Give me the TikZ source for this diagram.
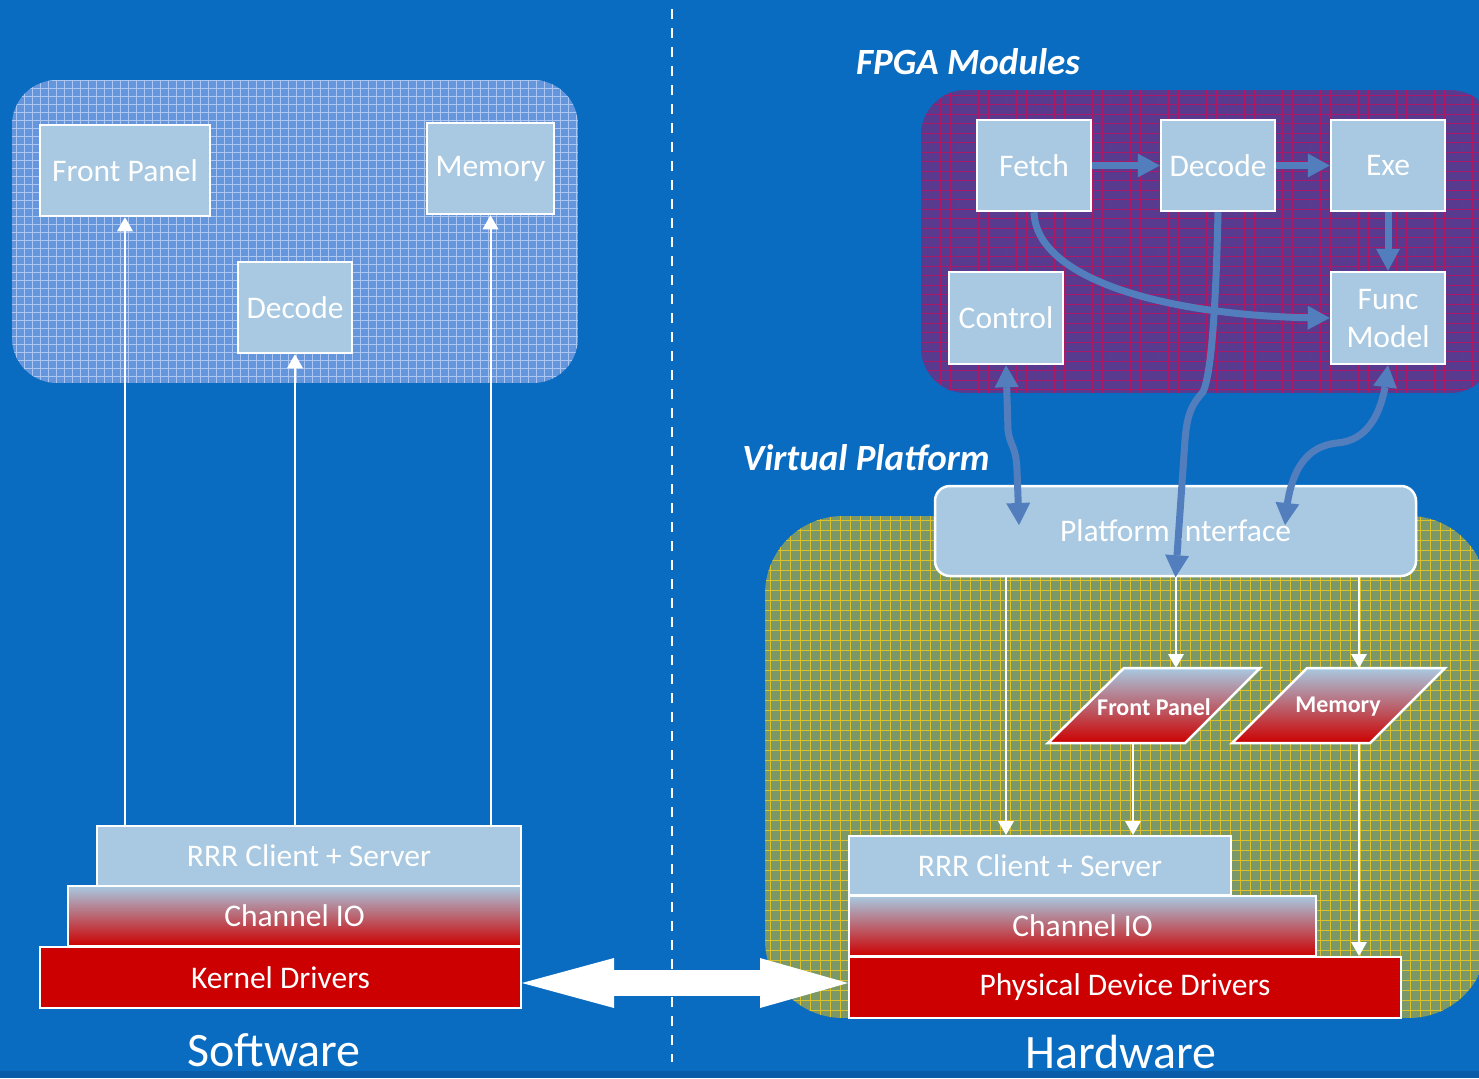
\documentclass[tikz,border=0pt]{standalone}
\usepackage{fontspec}
\setmainfont{Carlito}
\usetikzlibrary{arrows.meta,bending}

\definecolor{bg}{RGB}{10,108,192}
\definecolor{bgdark}{RGB}{10,92,168}
\definecolor{boxblue}{RGB}{168,201,225}
\definecolor{swfill}{RGB}{100,150,222}
\definecolor{swgrid}{RGB}{172,198,240}
\definecolor{fpgafill}{RGB}{88,58,142}
\definecolor{fpgagrid}{RGB}{170,26,104}
\definecolor{hwfill}{RGB}{122,152,104}
\definecolor{hwgrid}{RGB}{222,192,40}
\definecolor{flow}{RGB}{82,126,190}
\definecolor{drvred}{RGB}{204,0,0}
\definecolor{midpink}{RGB}{190,156,176}

\tikzset{
  base/.style={inner sep=0pt, text=white, font=\fontsize{31.5}{38}\selectfont},
  blk/.style={base, draw=white, line width=2.5pt, fill=boxblue},
  layer/.style={base, draw=white, line width=2pt},
  solidlayer/.style={layer, fill=#1},
  fadelayer/.style={layer, top color=boxblue, middle color=midpink, bottom color=drvred},
  wa/.style={draw=white, line width=2pt, -{Triangle[width=16pt,length=14pt,line width=0pt]}},
  fa/.style={draw=flow, line width=7pt, -{Triangle[width=24pt,length=22pt,line width=0pt]}},
  fa2/.style={draw=flow, line width=7pt,
    {Triangle[width=24pt,length=22pt,line width=0pt]}-{Triangle[width=24pt,length=22pt,line width=0pt]}},
  title/.style={text=white, inner sep=0pt, font=\bfseries\itshape\fontsize{37}{44}\selectfont},
  side/.style={text=white, inner sep=0pt, font=\fontsize{48}{56}\selectfont},
  paratext/.style={text=white, inner sep=0pt, font=\bfseries\fontsize{24}{29}\selectfont},
}

\begin{document}
\begin{tikzpicture}[x=1pt,y=-1pt]
\useasboundingbox (0,0) rectangle (1479,1078);
\fill[bg] (0,0) rectangle (1479,1078);
\fill[bgdark] (0,1071) rectangle (1479,1078);

% divider between the software and hardware halves
\draw[white, line width=2.5pt, dash pattern=on 10pt off 9pt] (672,9) -- (672,1062);

% software group background
\begin{scope}
  \clip[rounded corners=45pt] (12,80) rectangle (578,383);
  \fill[swfill] (12,80) rectangle (578,383);
  \draw[swgrid, line width=0.6pt, step=8pt] (12,80) grid (578,383);
\end{scope}

% FPGA modules background
\begin{scope}
  \clip[rounded corners=45pt] (921,90) rectangle (1495,393);
  \fill[fpgafill] (921,90) rectangle (1495,393);
  \draw[fpgagrid, line width=0.6pt, step=9.5pt] (921,90) grid (1495,393);
\end{scope}

% hardware group background
\begin{scope}
  \clip[rounded corners=78pt] (765,516) rectangle (1487,1018);
  \fill[hwfill] (765,516) rectangle (1487,1018);
  \draw[hwgrid, line width=0.6pt, step=10pt] (765,516) grid (1487,1018);
\end{scope}

% titles
\node[title] (fpgaT) at (968,62) {FPGA Modules};
\node[title] (vpT) at (866,458) {Virtual Platform};
\node[side] (swT) at (274,1050) {Software};
\node[side] (hwT) at (1121,1052) {Hardware};

% software side
\node[blk, minimum width=170pt, minimum height=91pt] (fpL) at (125,170.5) {Front Panel};
\node[blk, minimum width=127pt, minimum height=91pt] (memL) at (490.5,168.5) {Memory};
\node[blk, minimum width=114pt, minimum height=91pt] (decL) at (295,307.5) {Decode};

\node[solidlayer=boxblue, minimum width=424pt, minimum height=60pt] (rrrL) at (309,856) {RRR Client + Server};
\node[fadelayer, minimum width=453pt, minimum height=60pt] (chL) at (294.5,916) {Channel IO};
\node[solidlayer=drvred, minimum width=481pt, minimum height=61pt] (kdL) at (280.5,977.5) {Kernel Drivers};

\draw[wa] (fpL.south |- rrrL.north) -- (fpL.south);
\draw[wa] (decL.south |- rrrL.north) -- (decL.south);
\draw[wa] (memL.south |- rrrL.north) -- (memL.south);

% FPGA modules
\node[blk, minimum width=114pt, minimum height=91pt] (fetch) at (1034,165.5) {Fetch};
\node[blk, minimum width=114pt, minimum height=91pt] (decR) at (1218,165.5) {Decode};
\node[blk, minimum width=114pt, minimum height=91pt] (exe) at (1388,165.5) {Exe};
\node[blk, minimum width=114pt, minimum height=92pt] (control) at (1006,318) {Control};
\node[blk, minimum width=114pt, minimum height=92pt, align=center] (func) at (1388,318) {Func\\Model};

% platform interface
\node[blk, rounded corners=15pt, minimum width=481pt, minimum height=90pt] (PI) at (1175.5,531) {Platform Interface};

% device models
\coordinate (fpTop) at (1176,668);
\coordinate (fpBot) at (1133,743);
\coordinate (memTop) at (1359,668);
\coordinate (memBot) at (1359,743);
\path[draw=white, line width=2.5pt, top color=boxblue, bottom color=drvred]
  (1124,668) -- (1260,668) -- (1185,743) -- (1048,743) -- cycle;
\path[draw=white, line width=2.5pt, top color=boxblue, bottom color=drvred]
  (1307,668) -- (1445,668) -- (1370,743) -- (1232,743) -- cycle;
\node[paratext] (fpP) at (1154,707) {Front Panel};
\node[paratext] (memP) at (1338,707) {Memory};

% hardware stack
\node[solidlayer=boxblue, minimum width=382pt, minimum height=59pt] (rrrR) at (1040,865.5) {RRR Client + Server};
\node[fadelayer, minimum width=467pt, minimum height=60pt] (chR) at (1082.5,926) {Channel IO};
\node[solidlayer=drvred, minimum width=552pt, minimum height=61pt] (pdd) at (1125,987.5) {Physical Device Drivers};

\draw[wa] (control.south |- PI.south) -- (control.south |- rrrR.north);
\draw[wa] (PI.south -| fpTop) -- (fpTop);
\draw[wa] (PI.south -| memTop) -- (memTop);
\draw[wa] (fpBot) -- (fpBot |- rrrR.north);
\draw[wa] (memBot) -- (memBot |- pdd.north);

% pipeline flow
\draw[fa] (fetch.east) -- (decR.west);
\draw[fa] (decR.east) -- (exe.west);
\draw[fa] (exe.south) -- (func.north);
\draw[fa] (fetch.south) .. controls (1036,280) and (1170,318) .. (func.west);
\draw[fa] (decR.south) .. controls (1216,300) and (1212,372) .. (1203,392)
  .. controls (1192,404) and (1187,414) .. (1185,440) -- (PI.south);
\coordinate (piL) at (1019,525);
\coordinate (piR) at (1285,525);
\draw[fa2] (control.south) -- (1008,430) .. controls (1010,447) and (1016,445) .. (1017,470) -- (piL);
\draw[fa2] (func.south) .. controls (1385,400) and (1375,440) .. (1337,443)
  .. controls (1300,447) and (1288,480) .. (piR);

% link between the two sides
\draw[white, line width=26pt,
  {Triangle[width=50pt,length=92pt,line width=0pt]}-{Triangle[width=50pt,length=88pt,line width=0pt]}]
  ([yshift=-5.5pt]kdL.east) -- ([yshift=4.5pt]pdd.west);
\end{tikzpicture}
\end{document}
